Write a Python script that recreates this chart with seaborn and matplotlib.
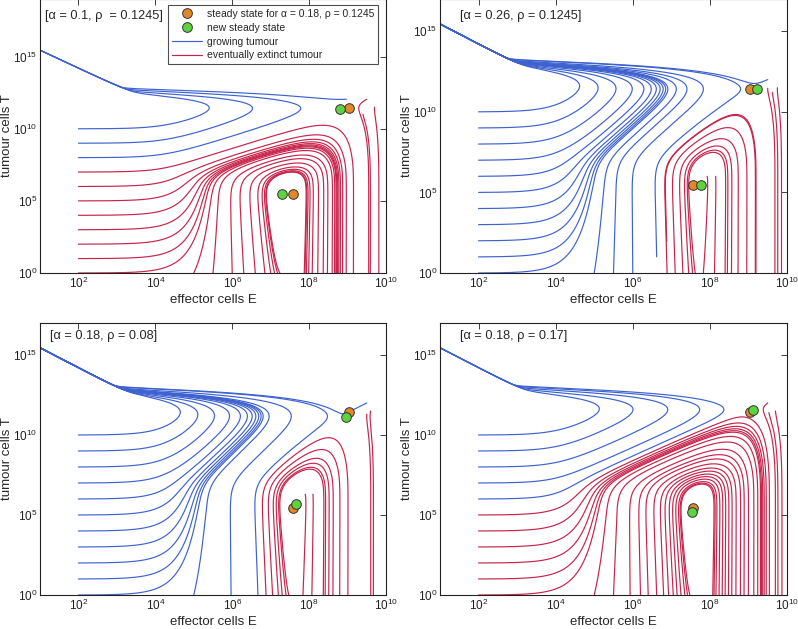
import numpy as np
import pandas as pd
import matplotlib
matplotlib.use("Agg")
import matplotlib.pyplot as plt
import seaborn as sns
from matplotlib.lines import Line2D

# ---------------- data ----------------
alpha_vals = [0.1, 0.26, 0.18, 0.18]
rho_vals = [0.1245, 0.1245, 0.08, 0.17]
panel_labels = ["[α = 0.1, ρ  = 0.1245]", "[α = 0.26, ρ = 0.1245]",
                "[α = 0.18, ρ = 0.08]", "[α = 0.18, ρ = 0.17]"]
y_top_exp = [19, 17, 17, 17]

# model constants (tumour-immune model, Kuznetsov type)
s_in = 2.06e3     # immune influx
d_E = 0.003       # effector death
n_kill = 1.6e-7   # kill rate
g_half = 1.1e7    # half-saturation of stimulation
m_inact = 8.98e-11  # inactivation
q_inact = 0.8
T_sat = 1e6       # saturation of killing

# steady states (log10 E, log10 T)
ref_ss_logE = [7.57, 9.05]
ref_ss_logT = [5.45, 11.42]
new_ss_logE = [[7.30, 8.80], [7.76, 9.23], [7.65, 8.97], [7.54, 9.12]]
new_ss_logT = [[5.47, 11.40], [5.45, 11.42], [5.67, 11.10], [5.19, 11.57]]

# initial conditions (log10 E, log10 T)
left_logT0 = [0, 1, 2, 3, 4, 5, 6, 7, 8, 9, 10]
left_logE0 = 2.0
extra_logE0 = [
    [5.0, 5.5, 6.0, 6.3, 6.6, 6.85, 7.0, 7.1, 7.18, 7.24, 9.5, 9.7, 8.97, 9.4],
    [5.0, 5.5, 6.0, 6.89, 7.1, 7.3, 7.45, 7.55, 7.62, 6.62, 6.88, 7.93, 8.15,
     9.5, 9.5, 9.75, 9.62],
    [5.0, 5.97, 6.67, 6.88, 7.05, 7.2, 7.3, 7.4, 7.47, 7.9, 8.1, 9.5, 9.5, 9.6],
    [5.0, 5.5, 5.93, 6.2, 6.4, 6.62, 6.8, 6.93, 7.05, 7.15, 7.25, 7.35, 7.42, 7.48,
     9.5, 9.53, 9.7],
]
extra_logT0 = [
    [0, 0, 0, 0, 0, 0, 0, 0, 0, 0, 12.05, 11.5, 12.05, 11.0],
    [0, 0, 0, 0, 0, 0, 0, 0, 0, 1.0, 1.96, 6.0, 6.0, 12.0, 11.46, 11.5, 11.2],
    [0, 0, 0, 0, 0, 0, 0, 0, 0, 6.3, 6.3, 12.0, 11.3, 11.5],
    [0, 0, 0, 0, 0, 0, 0, 0, 0, 0, 0, 0, 0, 0, 12.0, 11.4, 11.5],
]

BLUE = "#3d62d0"
RED = "#c8234a"
ORANGE = "#e0882a"
GREEN = "#5fd33f"


def exact_E(E, c, h):
    ch = c * h
    f = np.where(np.abs(ch) > 1e-10, np.expm1(ch) / np.where(c == 0, 1, c), h)
    return E * np.exp(ch) + s_in * f


def growth_E(T, rho):
    return rho * T / (g_half + T) - m_inact * T ** q_inact - d_E


def kill_T(E, T, alpha):
    return alpha - n_kill * E * (T_sat + T) ** -0.25


def simulate(alpha, rho, le0, lt0, ytop):
    ln10 = np.log(10.0)
    u = np.asarray(le0, float) * ln10
    v = np.asarray(lt0, float) * ln10 + 1e-4
    k = len(u)
    active = np.ones(k, bool)
    fate = np.zeros(k, int)
    t = np.zeros(k)
    U = [u.copy()]
    V = [v.copy()]
    ds = 0.01 * ln10
    dtmax, tmax = 2.0, 5000.0
    for _ in range(60000):
        if not active.any():
            break
        E = np.exp(u)
        T = np.exp(v)
        c = growth_E(T, rho)
        du = s_in / E + c
        dv = kill_T(E, T, alpha)
        speed = np.hypot(du, dv)
        h = np.minimum(dtmax, ds / np.maximum(speed, 1e-12))
        vh = v + 0.5 * h * dv
        Th = np.exp(vh)
        ch = growth_E(Th, rho)
        Eh = exact_E(E, ch, 0.5 * h)
        dvh = kill_T(Eh, Th, alpha)
        vn = v + h * dvh
        En = exact_E(E, ch, h)
        un = np.log(np.maximum(En, 1e-30))
        u = np.where(active, un, u)
        v = np.where(active, vn, v)
        t = t + np.where(active, h, 0)
        U.append(np.where(active, u, np.nan))
        V.append(np.where(active, v, np.nan))
        ext = active & (v < 0)
        grow = active & ((v / ln10 > ytop + 0.3) | (u / ln10 < 0.8))
        tout = active & (t > tmax)
        fate[ext] = 1
        fate[grow] = 2
        fate[tout & ~ext & ~grow] = 1
        active = active & ~(ext | grow | tout)
    U = np.array(U) / ln10
    V = np.array(V) / ln10
    rows = []
    for j in range(k):
        ok = ~np.isnan(U[:, j])
        le = U[ok, j][::2]
        lt = V[ok, j][::2]
        rows.append(pd.DataFrame({"E": 10 ** le, "T": 10 ** lt, "traj": j,
                                  "fate": "growing" if fate[j] == 2 else "extinct"}))
    return pd.concat(rows, ignore_index=True)


sns.set_theme(style="white")
plt.rcParams["font.family"] = ["Liberation Sans", "DejaVu Sans"]
plt.rcParams["mathtext.fontset"] = "custom"
plt.rcParams["mathtext.rm"] = "Liberation Sans"

W, H = 798, 629
fig = plt.figure(figsize=(W / 100, H / 100), dpi=100)
boxes = [(40, -1, 386, 273), (440, -1, 787, 273), (40, 323, 386, 595), (440, 323, 787, 595)]
label_xy = [(0.015, 0.96), (0.058, 0.96), (0.03, 0.975), (0.058, 0.975)]

for i in range(4):
    x0, y0, x1, y1 = boxes[i]
    ax = fig.add_axes([x0 / W, 1 - y1 / H, (x1 - x0) / W, (y1 - y0) / H])
    ax.set_xscale("log")
    ax.set_yscale("log")
    le0 = [left_logE0] * len(left_logT0) + extra_logE0[i]
    lt0 = list(left_logT0) + extra_logT0[i]
    df = simulate(alpha_vals[i], rho_vals[i], le0, lt0, y_top_exp[i])
    sns.lineplot(data=df, x="E", y="T", units="traj", hue="fate", estimator=None,
                 sort=False, palette={"growing": BLUE, "extinct": RED},
                 linewidth=0.85, legend=False, ax=ax)
    sns.scatterplot(x=10 ** np.array(ref_ss_logE), y=10 ** np.array(ref_ss_logT), color=ORANGE,
                    edgecolor="#333333", linewidth=0.7, s=48, zorder=5, ax=ax)
    sns.scatterplot(x=10 ** np.array(new_ss_logE[i]), y=10 ** np.array(new_ss_logT[i]), color=GREEN,
                    edgecolor="#333333", linewidth=0.7, s=48, zorder=6, ax=ax)
    ax.set_xlim(10, 1e10)
    ax.set_ylim(1, 10.0 ** y_top_exp[i])
    ax.set_xticks([1e2, 1e4, 1e6, 1e8, 1e10])
    ax.set_yticks([1e0, 1e5, 1e10, 1e15])
    ax.minorticks_off()
    ax.tick_params(direction="in", length=4, width=0.6, top=True, right=True,
                   labelsize=8.5, colors="#222222", pad=2)
    for sp in ax.spines.values():
        sp.set_color("#222222")
        sp.set_linewidth(0.8)
    ax.set_xlabel("effector cells E", fontsize=9.5, labelpad=2)
    ax.set_ylabel("tumour cells T", fontsize=9.5, labelpad=0)
    ax.text(label_xy[i][0], label_xy[i][1], panel_labels[i],
            transform=ax.transAxes, fontsize=9.2, va="top", ha="left")
    if i == 0:
        handles = [
            Line2D([], [], marker="o", ls="", color=ORANGE, mec="#333333", ms=7, mew=0.7),
            Line2D([], [], marker="o", ls="", color=GREEN, mec="#333333", ms=7, mew=0.7),
            Line2D([], [], color=BLUE, lw=0.85),
            Line2D([], [], color=RED, lw=0.85),
        ]
        labels = ["steady state for α = 0.18, ρ = 0.1245", "new steady state",
                  "growing tumour", "eventually extinct tumour"]
        leg = ax.legend(handles, labels, loc="upper right", bbox_to_anchor=(0.983, 0.985),
                        fontsize=7.5, frameon=True, fancybox=False, edgecolor="#222222",
                        borderpad=0.35, labelspacing=0.37, handlelength=2.9,
                        handletextpad=0.5, borderaxespad=0.2)
        leg.get_frame().set_linewidth(0.8)

fig.savefig("out.png", dpi=100)
